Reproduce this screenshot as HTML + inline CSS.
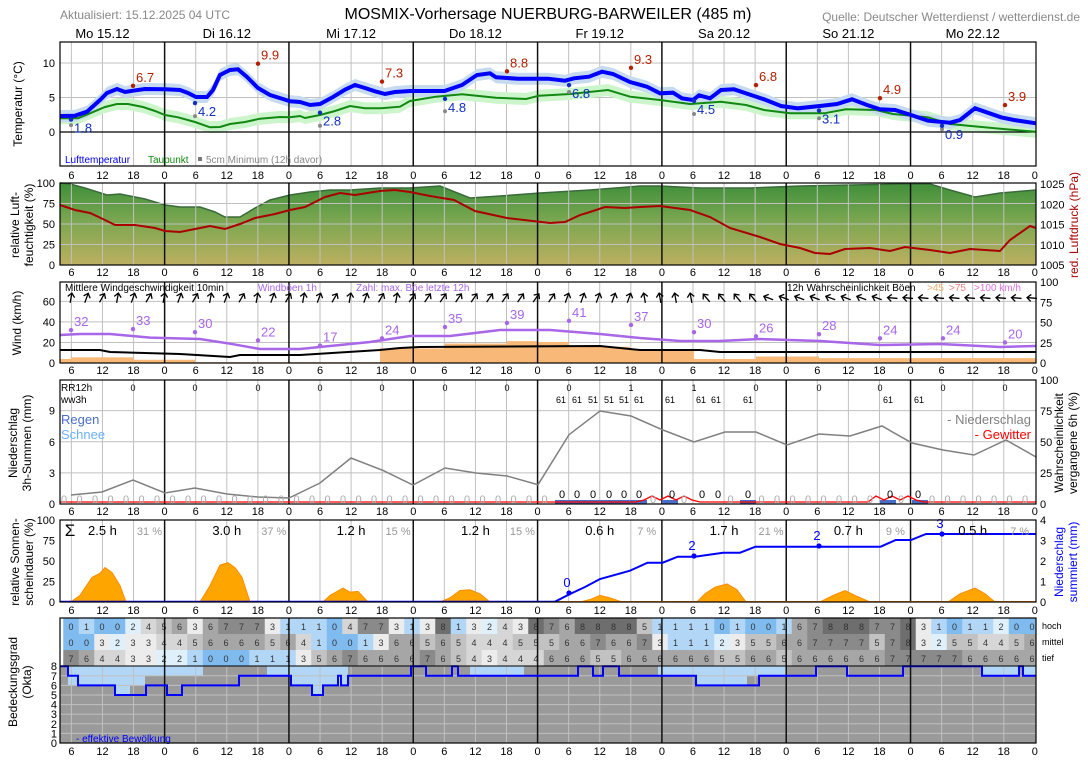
<!DOCTYPE html>
<html><head><meta charset="utf-8"><style>
html,body{margin:0;padding:0;background:#fff;}
svg{display:block;font-family:"Liberation Sans","DejaVu Sans",sans-serif;}
</style></head><body>
<svg id="s" width="1088" height="763" xmlns="http://www.w3.org/2000/svg"></svg>
<script>
const S=document.getElementById('s');let o='';
const X0=60,X1=1036;
const xh=h=>40.3+h*5.18;
function P(pts){return pts.map((p,i)=>(i?'L':'M')+p[0]+','+p[1]).join('');}
function t(x,y,s,opt){opt=opt||{};o+=`<text x="${x}" y="${y}" font-size="${opt.fs||11}" fill="${opt.c||'#000'}" text-anchor="${opt.a||'middle'}"${opt.r?` transform="rotate(${opt.r} ${x} ${y})"`:''}>${s}</text>`;}
function grid(y0,y1,hl){
  for(let h=6;h<=192;h+=6){const x=xh(h);if(x<X0||x>X1)continue;
    if(h%24==0)continue;o+=`<line x1="${x}" y1="${y0}" x2="${x}" y2="${y1}" stroke="#c0c0c0" stroke-width="1"/>`;}
  (hl||[]).forEach(y=>o+=`<line x1="${X0}" y1="${y}" x2="${X1}" y2="${y}" stroke="#c0c0c0" stroke-width="1"/>`);
}
function days(y0,y1){for(let d=1;d<8;d++){const x=xh(d*24);o+=`<line x1="${x}" y1="${y0}" x2="${x}" y2="${y1}" stroke="#111" stroke-width="1.5"/>`;}}
function frame(y0,y1){o+=`<rect x="${X0}" y="${y0}" width="${X1-X0}" height="${y1-y0}" fill="none" stroke="#000" stroke-width="1.2"/>`;}
function xt(y){for(let h=6;h<=192;h+=6){const x=xh(h);t(x,y,h%24);}}
// header
t(60,19,'Aktualisiert: 15.12.2025 04 UTC',{a:'start',fs:12,c:'#888'});
t(548,19,'MOSMIX-Vorhersage NUERBURG-BARWEILER (485 m)',{fs:16});
t(1080,21,'Quelle: Deutscher Wetterdienst / wetterdienst.de',{a:'end',fs:12,c:'#888'});
['Mo 15.12','Di 16.12','Mi 17.12','Do 18.12','Fr 19.12','Sa 20.12','So 21.12','Mo 22.12'].forEach((d,i)=>t(xh(i*24+12),38,d,{fs:13}));

// ===== Temperature 42-166
const ty=v=>132-v*6.9;
grid(42,166,[ty(10),ty(5)]);
const blue=[[60,116],[75,115.7],[87,111.7],[100,100],[107,93],[117,89],[125,92],[133,90.7],[145,89],[165,89.3],[180,90],[188,93],[196,97],[207,97],[213,90],[220,75],[230,70],[238,69.3],[247,77],[258,88],[270,95],[283,99],[290,101.3],[300,102],[310,105],[320,104],[333,97],[345,89.7],[355,85],[365,88],[375,91.3],[385,94],[395,92],[410,91],[444.5,91],[462,85],[477,75],[490,73.3],[496,77.3],[518,78.7],[548,78.7],[565,80.7],[574,78.3],[589,76.7],[602,71.7],[613,74],[630,82],[647,86.7],[660,93.3],[673,92.7],[682,98.3],[693,100],[699,95.3],[710,98.3],[721,90],[734,89.3],[751,95],[764,99.3],[781,106],[798,108.3],[820,106],[837,104],[852,99.3],[867,105],[880,109.3],[895,110],[911,115],[928,120.7],[950,122.7],[960,120],[975,108.3],[1001,117.3],[1014,120],[1036,123.3]];
const green=[[60,118.3],[78,118.3],[90,113.3],[105,107],[117,104],[128,104],[143,107],[155,111],[165,115],[178,117.3],[195,122],[210,127.3],[220,127],[230,124],[245,122],[260,118.7],[280,117],[290,117.3],[300,116],[305,118],[320,115],[335,111],[350,106],[365,108.3],[380,108.3],[400,106.7],[410,101],[436,96.7],[462,94.3],[496,97.7],[526,99],[539,95.7],[570,94],[608,90],[630,96.7],[660,100],[690,104],[721,101.7],[746,105],[764,110],[790,113.3],[824,113.3],[846,109.3],[876,110],[893,114],[928,117.3],[950,124],[1006,129.3],[1036,131.7]];
function band(pts,w,col){const up=pts.map(p=>[p[0],p[1]-w]),dn=pts.map(p=>[p[0],p[1]+w]).reverse();o+=`<path d="${P(up.concat(dn))}Z" fill="${col}"/>`;}
band(green,6,'#ccf5cc');band(blue,6,'#c6daf0');
o+=`<line x1="${X0}" y1="${ty(0)}" x2="${X1}" y2="${ty(0)}" stroke="#000" stroke-width="1.2"/>`;
days(42,166);
o+=`<path d="${P(green)}" fill="none" stroke="#118811" stroke-width="2"/>`;
o+=`<path d="${P(blue)}" fill="none" stroke="#0000ff" stroke-width="4"/>`;
[[133,6.7],[258,9.9],[382,7.3],[507,8.8],[631,9.3],[756,6.8],[880,4.9],[1005,3.9]].forEach(p=>{const y=ty(p[1]);o+=`<circle cx="${p[0]}" cy="${y}" r="2.2" fill="#b22000"/>`;t(p[0]+3,y-4,p[1],{a:'start',fs:13,c:'#b22000'});});
[[71,1.8,1],[195,4.2,2.3],[320,2.8,0.9],[445,4.8,3],[569,6.8,5.8],[694,4.5,2.6],[819,3.1,2],[942,0.9,0.4]].forEach(p=>{const y=ty(p[1]),g=ty(p[2]);o+=`<circle cx="${p[0]}" cy="${g}" r="2" fill="#888"/><circle cx="${p[0]}" cy="${y}" r="2.2" fill="#1030c0"/>`;t(p[0]+3,y+13,p[1].toFixed(1),{a:'start',fs:13,c:'#1030c0'});});
t(65,163,'Lufttemperatur',{a:'start',fs:10,c:'#0000ff'});t(148,163,'Taupunkt',{a:'start',fs:10,c:'#118811'});
o+=`<rect x="198" y="157" width="4" height="4" fill="#777"/>`;t(206,163,'5cm Minimum (12h davor)',{a:'start',fs:10,c:'#888'});
frame(42,166);
[[10,ty(10)],[5,ty(5)],[0,ty(0)]].forEach(p=>t(55,p[1]+4,p[0],{a:'end'}));
t(22,104,'Temperatur (°C)',{fs:12,r:-90});
xt(179);

// ===== Humidity 183-265
const hy=v=>265-v*0.82;
const htop=[[60,183],[70,184],[85,188],[107,195],[120,194],[145,199],[165,205],[180,207],[200,207],[215,212],[225,217],[240,217],[255,208],[270,200],[290,195],[310,192],[330,190],[350,190],[380,188],[410,188],[440,186],[470,198],[500,196],[540,193],[590,190],[640,186],[660,186],[700,188],[750,188],[800,186],[850,185],[900,184],[930,184],[950,190],[975,197],[1000,193],[1036,190]];
o+=`<defs><linearGradient id="hg" x1="0" y1="0" x2="0" y2="1"><stop offset="0" stop-color="#3f8f3a"/><stop offset="0.45" stop-color="#7aa650"/><stop offset="1" stop-color="#bcb060"/></linearGradient></defs>`;
o+=`<path d="${P(htop)}L1036,265L60,265Z" fill="url(#hg)"/>`;
o+=`<path d="${P(htop)}" fill="none" stroke="#3a6a3a" stroke-width="1.5"/>`;
grid(183,265,[hy(25),hy(50),hy(75)]);
days(183,265);
const pres=[[60,205],[75,210],[90,213],[105,220],[115,225],[135,225],[155,228],[165,231],[180,232],[195,229],[210,226],[225,229],[240,224],[255,218],[275,214],[290,210],[305,207],[325,197],[340,193],[355,195],[380,191],[395,190],[410,192],[430,196],[454,200],[475,211],[507,218],[550,223],[565,222],[580,215],[590,212],[605,207],[625,208],[640,207],[660,206],[690,210],[710,217],[730,228],[760,237],[780,244],[800,248],[815,253],[830,254],[845,249],[870,248],[890,251],[905,247],[930,250],[950,253],[970,249],[1000,251],[1010,240],[1030,226],[1036,228]];
o+=`<path d="${P(pres)}" fill="none" stroke="#aa0000" stroke-width="2"/>`;
frame(183,265);
[100,75,50,25,0].forEach(v=>t(55,hy(v)+4,v,{a:'end'}));
[1025,1020,1015,1010,1005].forEach((v,i)=>t(1040,184+i*20.25+4,v,{a:'start'}));
t(19,225,'relative Luft-',{fs:12,r:-90});t(33,225,'feuchtigkeit (%)',{fs:12,r:-90});
t(1078,225,'red. Luftdruck (hPa)',{fs:12,r:-90,c:'#aa0000'});
xt(276);

// ===== Wind 282-363
const wy=v=>363-v*1.028, py=v=>363-v*0.81;
grid(282,363,[wy(20),wy(40),wy(60)]);
const bars=[[60,71,5],[71,133,7],[133,165,4],[165,195,4],[195,380,1],[380,445,18],[445,507,24],[507,538,27],[538,569,26],[569,630,20],[630,694,16],[694,756,5],[756,819,8],[819,1036,6]];
bars.forEach(b=>o+=`<rect x="${b[0]}" y="${py(b[2])}" width="${b[1]-b[0]}" height="${363-py(b[2])}" fill="#f8b878"/>`);
days(282,363);
const gust=[[60,335],[80,334],[110,334],[150,337.6],[200,339],[230,343.7],[260,349],[300,349],[340,345],[370,342],[410,336],[450,336],[500,330],[550,330],[600,334],[640,338],[680,341],[720,341],[760,339],[820,341],[880,345],[940,344],[1000,347],[1036,346]];
o+=`<path d="${P(gust)}" fill="none" stroke="#a866e8" stroke-width="2.5"/>`;
const mean=[[60,350],[100,350],[110,352],[180,354],[230,357],[240,355],[300,355],[380,350],[400,348],[420,347],[600,346],[640,350],[700,350],[720,352],[1036,352]];
o+=`<path d="${P(mean)}" fill="none" stroke="#000" stroke-width="2"/>`;
[[71,32],[133,33],[195,30],[258,22],[320,17],[382,24],[445,35],[507,39],[569,41],[631,37],[694,30],[756,26],[819,28],[880,24],[943,24],[1005,20]].forEach(p=>{const y=wy(p[1]);o+=`<circle cx="${p[0]}" cy="${y}" r="2.2" fill="#a866e8"/>`;t(p[0]+3,y-4,p[1],{a:'start',fs:13,c:'#a866e8'});});
// arrows
for(let i=0;i<63;i++){const x=71+i*15.5;let a;
 if(x<400)a=10+((i%3)*10);else if(x<560)a=35;else if(x<640)a=20;else if(x<700)a=-10;else if(x<760)a=-40;else if(x<880)a=-70;else a=-85;
 o+=`<g transform="translate(${x},298) rotate(${a})"><line x1="0" y1="5" x2="0" y2="-5" stroke="#000" stroke-width="1.3"/><path d="M-3.5,-1L0,-5L3.5,-1" fill="none" stroke="#000" stroke-width="1.3"/></g>`;}
t(65,291,'Mittlere Windgeschwindigkeit 10min',{a:'start',fs:10});
t(258,291,'Windböen 1h',{a:'start',fs:10,c:'#a866e8'});
t(356,291,'Zahl: max. Böe letzte 12h',{a:'start',fs:10,c:'#a866e8'});
t(787,291,'12h Wahrscheinlichkeit Böen',{a:'start',fs:10});
t(927,291,'>45',{a:'start',fs:10,c:'#f0b070'});t(949,291,'>75',{a:'start',fs:10,c:'#f08080'});t(974,291,'>100 km/h',{a:'start',fs:10,c:'#e070e0'});
frame(282,363);
[60,40,20,0].forEach(v=>t(55,wy(v)+4,v,{a:'end'}));
[100,75,50,25,0].forEach(v=>t(1040,py(v)+4,v,{a:'start'}));
t(21,323,'Wind (km/h)',{fs:12,r:-90});
xt(374);

// ===== Precip 380-504
const ry=v=>504-v*10.37, qy=v=>504-v*1.24;
grid(380,504,[ry(3),ry(6),ry(9)]);
days(380,504);
[[555,570],[570,585],[585,601],[601,617],[617,632],[632,647],[662,678],[740,756],[880,896],[912,928]].forEach(b=>o+=`<rect x="${b[0]}" y="500" width="${b[1]-b[0]}" height="4" fill="#4a6ec8"/>`);
const pp=[[71,495],[102,492],[133,480],[165,493],[195,488],[227,494],[258,497],[289,498],[320,483],[351,458],[382,470],[413,485],[445,468],[476,473],[507,476],[538,484.7],[569,434.7],[600,411],[631,416],[663,430],[694,442],[725,432],[756,432],[787,445],[819,434],[850,436],[882,426],[912,443],[943,450],[974,455],[1006,440],[1036,457]];
o+=`<path d="${P(pp)}" fill="none" stroke="#808080" stroke-width="1.5"/>`;
let rl=[];for(let x=60;x<=1036;x+=8){let y=502;if((x>640&&x<700)||(x>870&&x<920))y=502-((x/8)%2)*4;rl.push([x,y]);}
o+=`<path d="${P(rl)}" fill="none" stroke="#ff0000" stroke-width="1.3"/>`;
const bl=[562,577,593,609,624,639,672,702,718,748,890,918];
for(let i=0;i<63;i++){const x=64+i*15.5;const b=bl.find(v=>Math.abs(v-x)<7);if(b)t(b,498,'0',{fs:11});else t(x,503,'0',{fs:11,c:'#aaa'});}
t(61,391,'RR12h',{a:'start',fs:10});t(61,403,'ww3h',{a:'start',fs:10});
[[133,0],[195,0],[258,0],[320,0],[382,0],[445,0],[507,0],[569,0],[631,1],[694,1],[756,0],[819,0],[880,0],[943,0],[1005,0]].forEach(p=>t(p[0],391,p[1],{fs:9}));
[[561,61],[577,61],[593,51],[609,51],[624,51],[639,61],[670,61],[701,61],[716,61],[748,61],[888,61],[919,61]].forEach(p=>t(p[0],403,p[1],{fs:9}));
t(61,424,'Regen',{a:'start',fs:13,c:'#4a6ec8'});t(61,439,'Schnee',{a:'start',fs:13,c:'#6ab0ff'});
t(1031,424,'- Niederschlag',{a:'end',fs:13,c:'#808080'});t(1031,439,'- Gewitter',{a:'end',fs:13,c:'#ff0000'});
frame(380,504);
[9,6,3,0].forEach(v=>t(55,ry(v)+4,v,{a:'end'}));
[100,75,50,25,0].forEach(v=>t(1040,qy(v)+4,v,{a:'start'}));
t(17,443,'Niederschlag',{fs:12,r:-90});t(31,443,'3h-Summen (mm)',{fs:12,r:-90});
t(1063,443,'Wahrscheinlichkeit',{fs:12,r:-90});t(1077,443,'vergangene 6h (%)',{fs:12,r:-90});
xt(515);

// ===== Sun 520-602
const sy=v=>602-v*0.82;
grid(520,602,[]);
days(520,602);
const humps=[[[62,0],[72,1],[80,8],[92,30],[100,35],[105,42],[112,36],[120,20],[126,0]],[[200,0],[210,20],[220,45],[228,48],[235,42],[242,30],[250,0]],[[323,0],[330,8],[343,17],[350,12],[358,13],[368,0]],[[440,0],[450,5],[460,14],[470,15],[480,10],[490,0]],[[580,0],[590,3],[600,8],[610,5],[622,0]],[[697,0],[705,10],[715,18],[727,22],[737,15],[746,0]],[[820,0],[833,8],[845,14],[855,8],[870,0]],[[948,0],[960,10],[975,17],[985,10],[995,0]]];
humps.forEach(hm=>o+=`<path d="${P(hm.map(p=>[p[0],sy(p[1])]))}Z" fill="#ffa500" stroke="#ff8c00" stroke-width="1"/>`);
o+=`<line x1="60" y1="601.5" x2="555" y2="601.5" stroke="#0000ff" stroke-width="1.5"/><line x1="555" y1="601.5" x2="1036" y2="601.5" stroke="#ff8c00" stroke-width="1"/>`;
const cum=[[555,601.7],[570,594],[585,587],[600,579],[630,570.7],[647.5,562.7],[662.6,562.7],[677.7,556.7],[695,556.7],[723,552.7],[740,552.7],[755.4,546.7],[880.6,546.7],[895.7,540],[911,540],[926,534],[1036,534]];
o+=`<path d="${P(cum)}" fill="none" stroke="#0000ff" stroke-width="2"/>`;
[[569,593,'0'],[694,556,'2'],[819,546,'2'],[942,534,'3']].forEach(p=>{o+=`<circle cx="${p[0]}" cy="${p[1]}" r="2.6" fill="#0000ff"/>`;t(p[0]-2,p[1]-6,p[2],{fs:13,c:'#0000ff'});});
t(70,536,'Σ',{fs:17});
[['2.5 h','31 %'],['3.0 h','37 %'],['1.2 h','15 %'],['1.2 h','15 %'],['0.6 h','7 %'],['1.7 h','21 %'],['0.7 h','9 %'],['0.5 h','7 %']].forEach((d,i)=>{const x=xh(i*24+12);t(x,535,d[0],{fs:13});t(x+47,535,d[1],{fs:11,c:'#999'});});
frame(520,602);
[100,75,50,25,0].forEach(v=>t(55,sy(v)+4,v,{a:'end'}));
[4,3,2,1,0].forEach(v=>t(1040,602-v*20.5+4,v,{a:'start'}));
t(19,562,'relative Sonnen-',{fs:12,r:-90});t(33,562,'scheindauer (%)',{fs:12,r:-90});
t(1063,562,'Niederschlag',{fs:12,r:-90,c:'#0000ff'});t(1077,562,'summiert (mm)',{fs:12,r:-90,c:'#0000ff'});
xt(614);

// ===== Cloud 618-743
const col=['#7fbbee','#b2d6f6','#dff0fa','#ececec','#d6d6d6','#c2c2c2','#a6a6a6','#8a8a8a','#6e6e6e'];
const hoch=[0,1,0,0,2,4,5,6,3,6,7,7,7,3,1,1,1,0,4,7,7,3,1,3,8,1,3,2,4,3,8,7,6,8,8,8,8,5,1,1,1,1,0,1,0,0,1,6,7,8,8,8,7,7,8,3,1,0,1,1,2,0,0];
const mit=[0,0,3,2,3,3,4,4,5,6,6,6,6,5,6,4,1,0,0,1,3,6,6,5,6,5,4,4,4,5,5,5,6,6,7,6,6,7,3,1,1,1,2,3,5,5,6,6,7,7,7,7,5,7,8,3,2,5,5,4,4,5,6];
const tief=[7,6,4,4,3,3,2,2,1,0,0,0,1,1,1,3,5,6,7,6,6,6,6,7,6,5,4,3,4,4,4,6,6,6,5,5,6,6,6,6,6,6,5,5,6,6,5,6,6,6,6,6,6,7,7,7,7,7,6,6,6,6,6];
[[hoch,618],[mit,634],[tief,650]].forEach(r=>{r[0].forEach((v,i)=>{const cx=71+i*15.5;const x0=Math.max(60,cx-7.75),x1=Math.min(1036,cx+7.75);if(x1<=x0)return;o+=`<rect x="${x0}" y="${r[1]}" width="${x1-x0+0.3}" height="16" fill="${col[v]}"/>`;if(cx<1036)t(cx,r[1]+12,v,{fs:9,c:'#333'});});});
const oy=v=>743-v*9.6;
o+=`<rect x="60" y="666" width="976" height="77" fill="#9a9a9a"/>`;
[[68,145,6],[115,130,5],[145,203,7],[267,290,7],[290,348,6],[312,322,5],[470,524,7],[658,786,7],[696,747,6],[982,1019,7],[1023,1036,7]].forEach(r=>o+=`<rect x="${r[0]}" y="666" width="${r[1]-r[0]}" height="${oy(r[2])-666}" fill="#b2d6f6"/>`);
for(let v=1;v<8;v++)o+=`<line x1="60" y1="${oy(v)}" x2="1036" y2="${oy(v)}" stroke="#c0c0c0"/>`;
for(let h=6;h<=192;h+=6){const x=xh(h);if(h%24)o+=`<line x1="${x}" y1="666" x2="${x}" y2="743" stroke="#c0c0c0"/>`;}
for(let d=1;d<8;d++){const x=xh(d*24);o+=`<line x1="${x}" y1="618" x2="${x}" y2="743" stroke="#111" stroke-width="1.5"/>`;}
const steps=[[60,8],[68,7],[78,6],[115,5],[146,6],[167,5],[182,6],[239,7],[291,6],[312,5],[323,6],[338,7],[341,6],[348,7],[411,8],[426,7],[452,8],[458,7],[578,8],[593,7],[603,8],[619,7],[696,6],[759,7],[816,8],[847,7],[903,8],[982,7],[1019,8],[1023,7],[1036,7]];
let sp=[];steps.forEach((s,i)=>{if(i)sp.push([s[0],oy(steps[i-1][1])]);sp.push([s[0],oy(s[1])]);});
o+=`<path d="${P(sp)}" fill="none" stroke="#0000ff" stroke-width="2"/>`;
t(76,742,'- effektive Bewölkung',{a:'start',fs:10,c:'#0000ff'});
o+=`<rect x="60" y="618" width="976" height="125" fill="none" stroke="#000" stroke-width="1.2"/><line x1="60" y1="666" x2="1036" y2="666" stroke="#000"/>`;
t(1042,629,'hoch',{a:'start',fs:9});t(1042,645,'mittel',{a:'start',fs:9});t(1042,661,'tief',{a:'start',fs:9});
for(let v=0;v<=8;v++)t(57,oy(v)+4,v,{a:'end'});
t(17,682,'Bedeckungsgrad',{fs:12,r:-90});t(31,682,'(Okta)',{fs:12,r:-90});
xt(755);
S.innerHTML=o;
</script>
</body></html>
